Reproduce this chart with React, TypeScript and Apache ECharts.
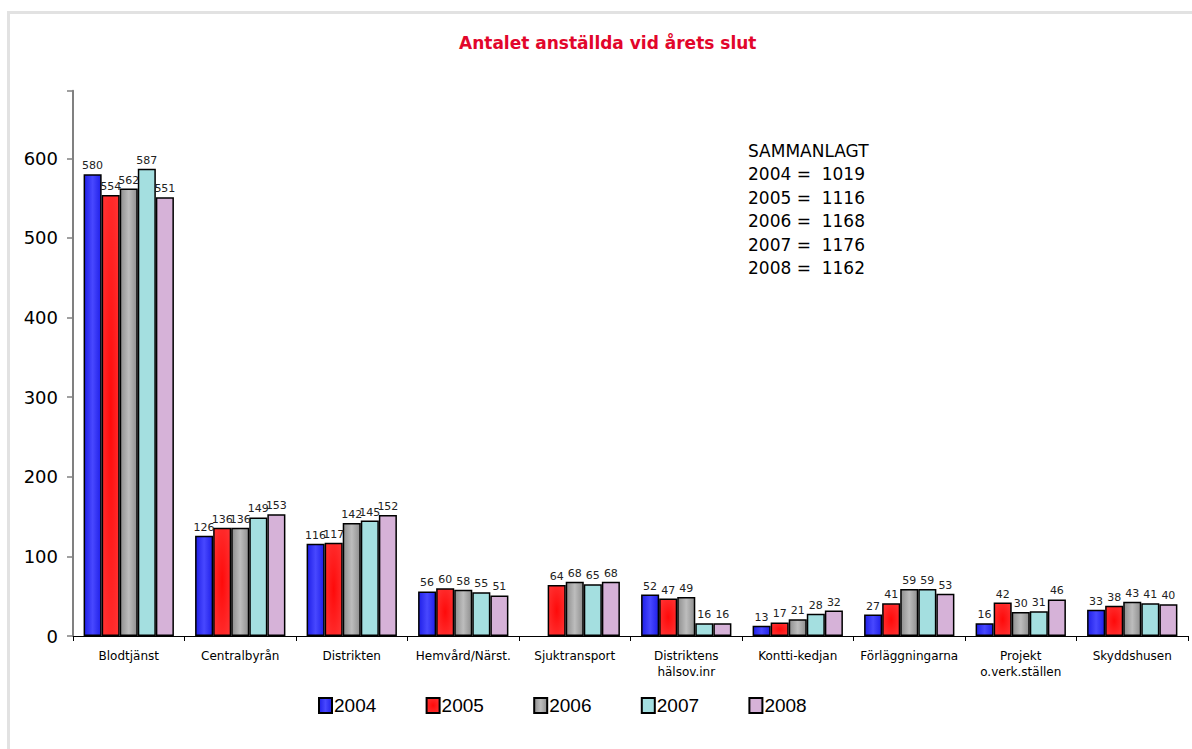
import React, { useEffect, useRef } from "react";
import * as echarts from "echarts";

const categories = [
  "Blodtjänst",
  "Centralbyrån",
  "Distrikten",
  "Hemvård/Närst.",
  "Sjuktransport",
  "Distriktens\nhälsov.inr",
  "Kontti-kedjan",
  "Förläggningarna",
  "Projekt\no.verk.ställen",
  "Skyddshusen",
];
const years = ["2004", "2005", "2006", "2007", "2008"];
const v2004 = [580, 126, 116, 56, null, 52, 13, 27, 16, 33];
const v2005 = [554, 136, 117, 60, 64, 47, 17, 41, 42, 38];
const v2006 = [562, 136, 142, 58, 68, 49, 21, 59, 30, 43];
const v2007 = [587, 149, 145, 55, 65, 16, 28, 59, 31, 41];
const v2008 = [551, 153, 152, 51, 68, 16, 32, 53, 46, 40];
const totalsTitle = "SAMMANLAGT";
const totals = [1019, 1116, 1168, 1176, 1162];
const yTicks = [0, 100, 200, 300, 400, 500, 600];

const FONT = "DejaVu Sans";

export default function App() {
  const ref = useRef<HTMLDivElement>(null);
  useEffect(() => {
    if (!ref.current) return;
    const chart = echarts.init(ref.current, undefined, { renderer: "svg" });
    const lg = (a: string, b: string) =>
      new echarts.graphic.LinearGradient(0, 0, 1, 0, [
        { offset: 0, color: a },
        { offset: 0.5, color: b },
        { offset: 1, color: a },
      ]);
    const colors: any[] = [
      lg("#2020e8", "#4848ff"),
      new echarts.graphic.RadialGradient(0.5, 0.5, 0.6, [
        { offset: 0, color: "#ff0a0a" },
        { offset: 1, color: "#ff3030" },
      ]),
      lg("#8f8f8f", "#bdbdbd"),
      "#a4dfe0",
      "#d6b2d8",
    ];
    const data = [v2004, v2005, v2006, v2007, v2008];
    const series = years.map((y, i) => ({
      name: y,
      type: "bar",
      data: data[i].map((v) => (v === null ? "-" : v)),
      barGap: "0%",
      barCategoryGap: "19%",
      itemStyle: { color: colors[i], borderColor: "#000", borderWidth: 1.5 },
      label: {
        show: true,
        position: "top",
        distance: 3,
        fontFamily: FONT,
        fontSize: 11,
        color: "#222",
      },
    }));
    const annot =
      totalsTitle +
      "\n" +
      years.map((y, i) => `${y} =  ${totals[i]}`).join("\n");
    const legends = years.map((y, i) => ({
      data: [y],
      left: 318 + i * 107.6,
      top: 696,
      padding: 0,
      icon: "rect",
      itemWidth: 13,
      itemHeight: 15,
      textStyle: {
        fontFamily: "'Liberation Sans Narrow', 'Liberation Sans', sans-serif",
        fontSize: 19,
        color: "#000",
        padding: [0, 0, 0, -3],
      },
    }));
    chart.setOption({
      animation: false,
      backgroundColor: "#fff",
      textStyle: { fontFamily: FONT },
      title: {
        text: "Antalet anställda vid årets slut",
        left: 454,
        top: 29,
        textStyle: {
          fontFamily: FONT,
          fontSize: 17,
          fontWeight: "bold",
          color: "#e2062b",
        },
      },
      legend: legends,
      grid: { left: 73, right: 4, top: 90.7, bottom: 113, containLabel: false },
      xAxis: {
        type: "category",
        data: categories,
        axisLine: { lineStyle: { color: "#000", width: 1 } },
        axisTick: { show: true, alignWithLabel: false, length: 5, lineStyle: { color: "#000" } },
        axisLabel: {
          interval: 0,
          fontFamily: FONT,
          fontSize: 12,
          color: "#000",
          margin: 12,
          lineHeight: 16,
        },
      },
      yAxis: {
        type: "value",
        min: 0,
        max: 685,
        interval: 100,
        splitLine: { show: false },
        axisLine: { show: true, lineStyle: { color: "#808080", width: 2 } },
        axisTick: { show: true, length: 6, lineStyle: { color: "#808080", width: 1.5 } },
        axisLabel: {
          fontFamily: FONT,
          fontSize: 18,
          color: "#000",
          margin: 15,
          formatter: (v: number) => (yTicks.includes(v) ? String(v) : ""),
        },
      },
      series,
      graphic: [
        {
          type: "rect",
          silent: true,
          shape: { x: 8.5, y: 12.5, width: 1300, height: 900 },
          style: { fill: "none", stroke: "#e2e2e2", lineWidth: 3 },
        },
        {
          type: "text",
          left: 748,
          top: 139,
          style: {
            text: annot,
            font: `17px "${FONT}"`,
            lineHeight: 23.5,
            fill: "#000",
          },
        },
      ],
    });
    return () => chart.dispose();
  }, []);
  return (
    <div
      ref={ref}
      style={{ position: "absolute", left: 0, top: 0, width: 1192, height: 749 }}
    />
  );
}
